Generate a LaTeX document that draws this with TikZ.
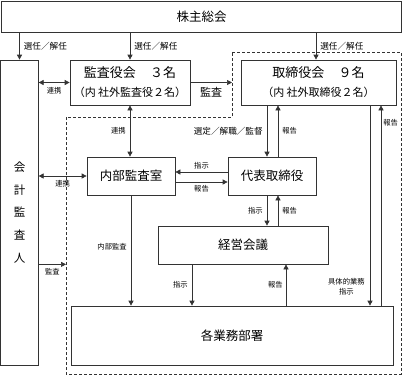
\documentclass[tikz,border=0pt]{standalone}
\usepackage{fontspec}
\setmainfont{Noto Sans CJK JP}
\usetikzlibrary{arrows.meta,positioning}

\begin{document}
\begin{tikzpicture}[x=1pt, y=-1pt,
  box/.style={rectangle, draw=black!80, line width=0.7pt, align=center, inner sep=0pt, font=\fontsize{12.5}{15}\selectfont},
  arrow/.style={-{Triangle[length=5pt,width=5pt]}, line width=0.7pt, draw=black!80},
  twoway/.style={{Triangle[length=5pt,width=5pt]}-{Triangle[length=5pt,width=5pt]}, line width=0.7pt, draw=black!80},
  note/.style={font=\fontsize{7.3}{10.5}\selectfont, inner sep=1pt, align=center},
  widenote/.style={note, font=\fontsize{8.6}{10.5}\selectfont}
]
\useasboundingbox (0,0) rectangle (404,376);
% boxes
\node[box, minimum width=400pt, minimum height=31pt] (soukai) at (201.5,16.5) {株主総会};
\node[box, minimum width=37.5pt, minimum height=305pt, font=\fontsize{11.5}{22.7}\selectfont] (kaikei) at (19.5,212.5) {会\\計\\監\\査\\人};
\node[box, minimum width=120pt, minimum height=45pt, font=\fontsize{13}{19}\selectfont] (kansa) at (130,82.5)
  {監査役会\hspace{1.1em}３名\\{\fontsize{11}{13}\selectfont （内 社外監査役２名）}};
\node[box, minimum width=155pt, minimum height=45pt, font=\fontsize{13}{19}\selectfont] (torishimari) at (318.5,82.5)
  {取締役会\hspace{1.1em}９名\\{\fontsize{11}{13}\selectfont （内 社外取締役２名）}};
\node[box, minimum width=88pt, minimum height=38pt] (naibu) at (131,176) {内部監査室};
\node[box, minimum width=88pt, minimum height=38pt] (daihyo) at (272,176) {代表取締役};
\node[box, minimum width=170pt, minimum height=38pt] (keiei) at (243,245) {経営会議};
\node[box, minimum width=322pt, minimum height=59pt] (gyomu) at (232,335.5) {各業務部署};

% dashed region
\coordinate (dtl) at (232,52);
\coordinate (dbl) at (66,374);
\draw[black!80, line width=0.8pt, dash pattern=on 3pt off 2pt]
  (dtl) -- (401,52) -- (401,374) -- (dbl) -- (66,117) -- (232,117) -- cycle;

% from shareholders
\draw[arrow] (soukai.south -| kaikei) -- (kaikei.north) node[widenote, midway, right=3pt] {選任／解任};
\draw[arrow] (soukai.south -| kansa) -- (kansa.north) node[widenote, midway, right=3pt] {選任／解任};
\coordinate (t0) at ([xshift=-2.5pt]torishimari.north);
\draw[arrow] (soukai.south -| t0) -- (t0) node[widenote, midway, right=3pt] {選任／解任};

% auditor and audit board
\draw[twoway] (kaikei.east |- kansa.west) -- (kansa.west) node[note, midway, below=4pt] {連携};
\draw[arrow] (kansa.east) -- (kansa.east -| dtl) node[midway, below=3pt, font=\fontsize{11}{13}\selectfont, inner sep=1pt] {監査};
\draw[twoway] (kansa.south) -- (kansa.south |- naibu.north) node[note, midway, left=3pt] {連携};
\draw[twoway] (kaikei.east |- naibu.west) -- (naibu.west) node[note, midway, below=3pt] {連携};
\draw[arrow] (kaikei.east |- keiei.south) -- (keiei.south -| dbl) node[note, midway, below=3pt] {監査};

% board and representative director
\coordinate (d1) at ([xshift=-5pt]daihyo.north);
\coordinate (d2) at ([xshift=6pt]daihyo.north);
\draw[arrow] (d1 |- torishimari.south) -- (d1) node[widenote, midway, left=3pt] {選定／解職／監督};
\draw[arrow] (d2) -- (d2 |- torishimari.south) node[note, midway, right=3pt] {報告};

% internal audit and representative director
\draw[arrow] ([yshift=4pt]daihyo.west) -- ([yshift=4pt]naibu.east) node[note, midway, above=2pt] {指示};
\draw[arrow] ([yshift=-6pt]naibu.east) -- ([yshift=-6pt]daihyo.west) node[note, midway, below=2pt] {報告};

% representative director and management meeting
\draw[arrow] (d1 |- daihyo.south) -- (d1 |- keiei.north) node[note, midway, left=3pt] {指示};
\draw[arrow] (d2 |- keiei.north) -- (d2 |- daihyo.south) node[note, midway, right=3pt] {報告};

% to departments
\draw[arrow] (naibu.south) -- (naibu.south |- gyomu.north) node[note, pos=0.47, left=3pt] {内部監査};
\coordinate (k1) at ([xshift=-51pt]keiei.south);
\coordinate (k2) at ([xshift=43pt]keiei.south);
\draw[arrow] (k1) -- (k1 |- gyomu.north) node[note, midway, left=3pt] {指示};
\draw[arrow] (k2 |- gyomu.north) -- (k2) node[note, midway, left=2pt] {報告};
\coordinate (r1) at ([xshift=51.5pt]torishimari.south);
\coordinate (r2) at ([xshift=62.5pt]torishimari.south);
\draw[arrow] (r1) -- (r1 |- gyomu.north) node[note, pos=0.905, left=4pt] {具体的業務\\指示};
\draw[arrow] (r2 |- gyomu.north) -- (r2) node[note, pos=0.915, right=1pt] {報告};
\end{tikzpicture}
\end{document}
